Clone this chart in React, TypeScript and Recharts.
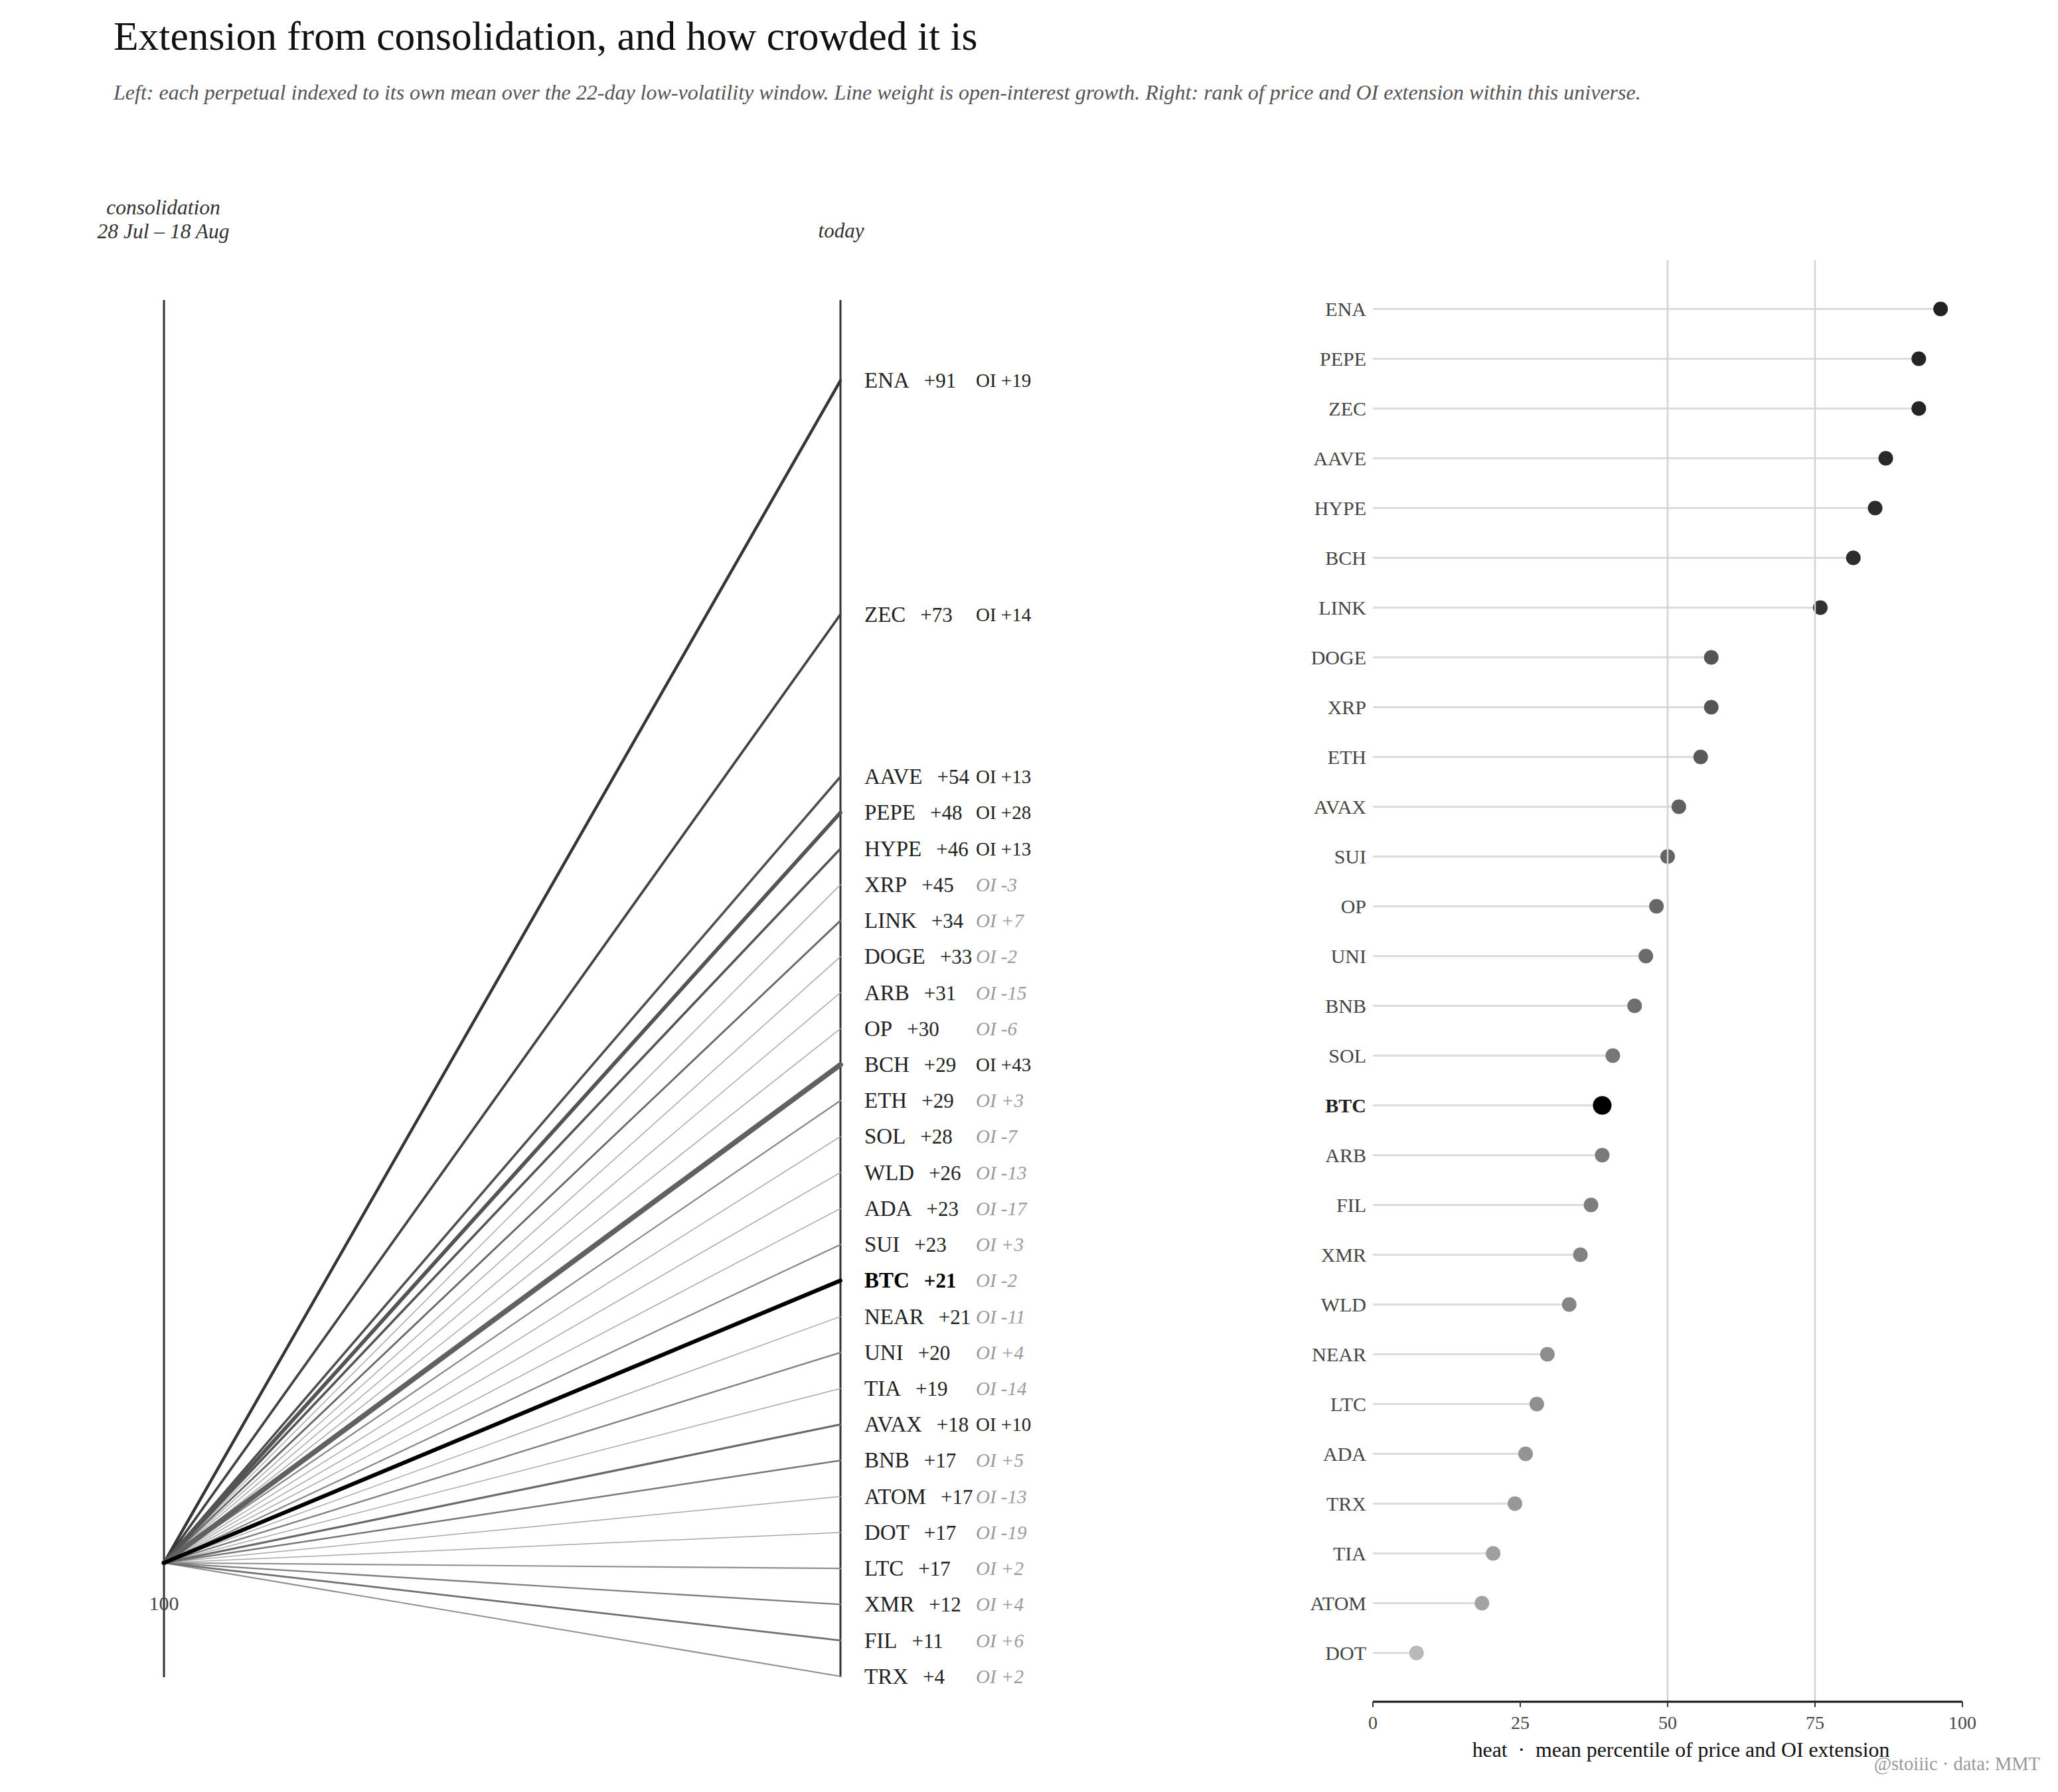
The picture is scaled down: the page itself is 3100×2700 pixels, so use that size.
import React from 'react';
import { LineChart, Line, XAxis, YAxis, ReferenceLine, ReferenceDot, ComposedChart, Bar } from 'recharts';

// ---------- data ----------
const coins = ['ENA', 'ZEC', 'AAVE', 'PEPE', 'HYPE', 'XRP', 'LINK', 'DOGE', 'ARB', 'OP', 'BCH', 'ETH', 'SOL', 'WLD', 'ADA', 'SUI', 'BTC', 'NEAR', 'UNI', 'TIA', 'AVAX', 'BNB', 'ATOM', 'DOT', 'LTC', 'XMR', 'FIL', 'TRX'];
const priceExt = [91, 73, 54, 48, 46, 45, 34, 33, 31, 30, 29, 29, 28, 26, 23, 23, 21, 21, 20, 19, 18, 17, 17, 17, 17, 12, 11, 4];
const oiExt = [19, 14, 13, 28, 13, -3, 7, -2, -15, -6, 43, 3, -7, -13, -17, 3, -2, -11, 4, -14, 10, 5, -13, -19, 2, 4, 6, 2];

const heatCoins = ['ENA', 'PEPE', 'ZEC', 'AAVE', 'HYPE', 'BCH', 'LINK', 'DOGE', 'XRP', 'ETH', 'AVAX', 'SUI', 'OP', 'UNI', 'BNB', 'SOL', 'BTC', 'ARB', 'FIL', 'XMR', 'WLD', 'NEAR', 'LTC', 'ADA', 'TRX', 'TIA', 'ATOM', 'DOT'];
const heatValues = [96.3, 92.6, 92.6, 87.0, 85.2, 81.5, 75.9, 57.4, 57.4, 55.6, 51.9, 50.0, 48.1, 46.3, 44.4, 40.7, 38.9, 38.9, 37.0, 35.2, 33.3, 29.6, 27.8, 25.9, 24.1, 20.4, 18.5, 7.4];
const heatTicks = [0, 25, 50, 75, 100];

const TITLE = 'Extension from consolidation, and how crowded it is';
const SUBTITLE = 'Left: each perpetual indexed to its own mean over the 22-day low-volatility window. Line weight is open-interest growth. Right: rank of price and OI extension within this universe.';

const FONT = "'Liberation Serif', 'Times New Roman', serif";
const LABEL_GAP = 2.77; // minimum label spacing in % units
const HIGHLIGHT = 'BTC';

// ---------- helpers ----------
function dodge(values: number[], gap: number): number[] {
  const order = values.map((_, i) => i).sort((a, b) => values[b] - values[a]);
  let clusters = order.map((i) => ({ members: [i], mean: values[i] }));
  let merged = true;
  while (merged) {
    merged = false;
    for (let k = 0; k < clusters.length - 1; k++) {
      const a = clusters[k];
      const b = clusters[k + 1];
      const aBottom = a.mean - ((a.members.length - 1) * gap) / 2;
      const bTop = b.mean + ((b.members.length - 1) * gap) / 2;
      if (aBottom - bTop < gap) {
        const members = [...a.members, ...b.members];
        const mean = members.reduce((s, i) => s + values[i], 0) / members.length;
        clusters.splice(k, 2, { members, mean });
        merged = true;
        break;
      }
    }
  }
  const out: number[] = new Array(values.length).fill(0);
  clusters.forEach((c) =>
    c.members.forEach((i, j) => {
      out[i] = c.mean + ((c.members.length - 1) / 2 - j) * gap;
    })
  );
  return out;
}

const fmt = (v: number) => (v >= 0 ? `+${v}` : `-${Math.abs(v)}`);

const grayHex = (g: number) => {
  const v = Math.max(0, Math.min(255, Math.round(g)));
  const h = v.toString(16).padStart(2, '0');
  return `#${h}${h}${h}`;
};

function lineStyle(i: number) {
  const name = coins[i];
  const oi = oiExt[i];
  const p = priceExt[i];
  if (name === HIGHLIGHT) return { stroke: '#000000', width: 6 };
  if (oi >= 10) return { stroke: grayHex(54 + (91 - p) * 0.7), width: 1.8 + oi * 0.14 };
  if (oi >= 0) return { stroke: grayHex(160 - oi * 8), width: 1.8 + oi * 0.15 };
  return { stroke: '#a8a8a8', width: 1.5 };
}

const dotColor = (h: number) => (h >= 70 ? grayHex(34 + (97 - h) * 0.7) : grayHex(200 - 2 * h));

// ---------- left chart ----------
const dodged = dodge(priceExt, LABEL_GAP);
const lineData = [
  Object.fromEntries([['t', 0], ...coins.map((c) => [c, 0])]),
  Object.fromEntries([['t', 1], ...coins.map((c, i) => [c, dodged[i]])]),
];
const drawOrder = coins
  .map((_, i) => i)
  .sort((a, b) => {
    if (coins[a] === HIGHLIGHT) return 1;
    if (coins[b] === HIGHLIGHT) return -1;
    return lineStyle(a).width - lineStyle(b).width;
  });

const makeDot = (i: number) => (props: any) => {
  const { cx, cy, index } = props;
  const key = `${coins[i]}-${index}`;
  if (index !== 1) return <g key={key} />;
  const isHL = coins[i] === HIGHLIGHT;
  const oi = oiExt[i];
  const strong = oi >= 10;
  return (
    <g key={key}>
      <text x={cx + 36} y={cy + 11} fontSize={31} fontFamily={FONT} fill={isHL ? '#000' : '#222'} fontWeight={isHL ? 700 : 400}>
        <tspan fontSize={33}>{coins[i]}</tspan>
        <tspan fontSize={31} dx={22}>{fmt(priceExt[i])}</tspan>
      </text>
      <text x={cx + 204} y={cy + 10} fontSize={29} fontFamily={FONT} fill={strong ? '#222' : '#9a9a9a'} fontStyle={strong ? 'normal' : 'italic'}>
        {`OI ${fmt(oi)}`}
      </text>
    </g>
  );
};

function LeftChart() {
  return (
    <LineChart width={1700} height={2700} data={lineData} margin={{ top: 452, left: 247, right: 434, bottom: 173 }}>
      <XAxis type="number" dataKey="t" domain={[0, 1]} hide />
      <YAxis type="number" domain={[-8.8, 97.2]} hide />
      <ReferenceLine x={0} stroke="#333" strokeWidth={3} />
      <ReferenceLine x={1} stroke="#333" strokeWidth={3} />
      {drawOrder.map((i) => {
        const s = lineStyle(i);
        return (
          <Line
            key={coins[i]}
            type="linear"
            dataKey={coins[i]}
            stroke={s.stroke}
            strokeWidth={s.width}
            strokeLinecap="round"
            dot={makeDot(i)}
            activeDot={false}
            isAnimationActive={false}
          />
        );
      })}
      <ReferenceDot
        x={0}
        y={0}
        r={0.1}
        fill="none"
        stroke="none"
        label={{
          content: (p: any) => (
            <text x={p.viewBox.x + (p.viewBox.width || 0) / 2} y={p.viewBox.y + 71} textAnchor="middle" fontSize={30} fontFamily={FONT} fill="#444">
              100
            </text>
          ),
        }}
      />
    </LineChart>
  );
}

// ---------- right chart ----------
const heatData = heatCoins.map((name, i) => ({ name, heat: heatValues[i] }));

const Lollipop = (props: any) => {
  const { x, y, width, height, payload } = props;
  const cy = y + height / 2;
  const isHL = payload.name === HIGHLIGHT;
  return (
    <g>
      <line x1={x} x2={x + width} y1={cy} y2={cy} stroke="#dcdcdc" strokeWidth={3} />
      <circle cx={x + width} cy={cy} r={isHL ? 14 : 11} fill={isHL ? '#000' : dotColor(payload.heat)} />
    </g>
  );
};

const YTick = (props: any) => {
  const { x, y, payload } = props;
  const isHL = payload.value === HIGHLIGHT;
  return (
    <text x={x} y={y} dy="0.35em" textAnchor="end" fontSize={30} fontFamily={FONT} fill={isHL ? '#222' : '#444'} fontWeight={isHL ? 700 : 400}>
      {payload.value}
    </text>
  );
};

function RightChart() {
  return (
    <ComposedChart width={1400} height={2700} layout="vertical" data={heatData} margin={{ top: 392, right: 144, bottom: 76, left: 168 }}>
      <XAxis
        type="number"
        dataKey="heat"
        domain={[0, 100]}
        ticks={heatTicks}
        interval={0}
        height={60}
        axisLine={{ stroke: '#111', strokeWidth: 3 }}
        tickLine={{ stroke: '#333', strokeWidth: 2 }}
        tickSize={8}
        tickMargin={13}
        tick={{ fontSize: 28, fill: '#444', fontFamily: FONT }}
      />
      <YAxis
        type="category"
        dataKey="name"
        width={200}
        interval={0}
        axisLine={false}
        tickLine={false}
        tickSize={0}
        tickMargin={10}
        padding={{ top: 36, bottom: 36 }}
        tick={<YTick />}
      />
      <ReferenceLine x={50} stroke="#d2d2d2" strokeWidth={2.5} />
      <ReferenceLine x={75} stroke="#d2d2d2" strokeWidth={2.5} />
      <Bar dataKey="heat" shape={<Lollipop />} isAnimationActive={false} />
    </ComposedChart>
  );
}

export default function App() {
  return (
    <div style={{ position: 'absolute', left: 0, top: 0, width: 3100, height: 2700, background: '#fff', fontFamily: FONT }}>
      <div style={{ position: 'absolute', left: 0, top: 0 }}>
        <LeftChart />
      </div>
      <div style={{ position: 'absolute', left: 1700, top: 0 }}>
        <RightChart />
      </div>
      <svg width={3100} height={2700} style={{ position: 'absolute', left: 0, top: 0, pointerEvents: 'none' }}>
        <text x={171} y={75} fontSize={61.5} fontFamily={FONT} fill="#111">{TITLE}</text>
        <text x={171} y={150} fontSize={32} fontFamily={FONT} fontStyle="italic" fill="#555">{SUBTITLE}</text>
        <text x={246} y={323} fontSize={31.5} fontFamily={FONT} fontStyle="italic" fill="#333" textAnchor="middle">consolidation</text>
        <text x={246} y={359} fontSize={31.5} fontFamily={FONT} fontStyle="italic" fill="#333" textAnchor="middle">28 Jul – 18 Aug</text>
        <text x={1267} y={358} fontSize={31} fontFamily={FONT} fontStyle="italic" fill="#333" textAnchor="middle">today</text>
        <text x={2532} y={2647} fontSize={31.8} fontFamily={FONT} fill="#111" textAnchor="middle">{'heat \u00a0·\u00a0 mean percentile of price and OI extension'}</text>
        <text x={3073} y={2667} fontSize={28.5} fontFamily={FONT} fill="#999" textAnchor="end">@stoiiic · data: MMT</text>
      </svg>
    </div>
  );
}
